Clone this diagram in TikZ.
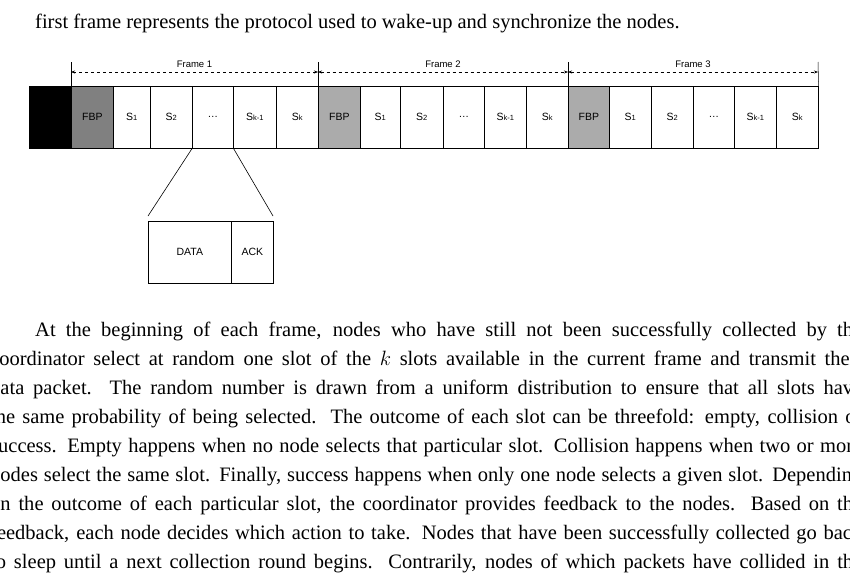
\documentclass[tikz,border=0pt]{standalone}
\usepackage{fontspec}
\setmainfont{Liberation Serif}
\newfontfamily\lab{Liberation Sans}
\usetikzlibrary{arrows.meta}
\begin{document}
\begin{tikzpicture}[x=1pt,y=-1pt,
  cell/.style={draw,line width=0.6pt,minimum height=62pt,inner sep=0pt,font=\lab\fontsize{10.5}{12}\selectfont},
  tick/.style={line width=0.5pt},
  dim/.style={dashed,line width=0.5pt,{Stealth[length=4pt]}-{Stealth[length=4pt]}},
  flabel/.style={font=\lab\fontsize{9.5}{11}\selectfont},
  body/.style={anchor=base west,inner sep=0pt,font=\fontsize{20.5}{24}\selectfont}]
\useasboundingbox (0,0) rectangle (850,576);
\clip (0,0) rectangle (850,576);
\newcommand{\sub}[2]{#1{\fontsize{7.5}{8}\selectfont #2}}
% cells
\node[cell,fill=black,minimum width=42pt,anchor=north west] (blk) at (29,86) {};
\foreach \n/\xa/\xb/\t/\f in {
 a0/71/113/FBP/black!50, a1/113/150/\sub{S}{1}/white, a2/150/192/\sub{S}{2}/white, a3/192/233/\dots/white, a4/233/276/\sub{S}{k-1}/white, a5/276/318/\sub{S}{k}/white,
 b0/318/360/FBP/black!33, b1/360/400/\sub{S}{1}/white, b2/400/443/\sub{S}{2}/white, b3/443/484/\dots/white, b4/484/526/\sub{S}{k-1}/white, b5/526/568/\sub{S}{k}/white,
 c0/568/609/FBP/black!33, c1/609/651/\sub{S}{1}/white, c2/651/693/\sub{S}{2}/white, c3/693/734/\dots/white, c4/734/776/\sub{S}{k-1}/white, c5/776/818/\sub{S}{k}/white}{
  \pgfmathsetmacro{\w}{\xb-\xa}
  \node[cell,fill=\f,minimum width=\w pt,anchor=north west] (\n) at (\xa,86) {\t};
}
% frame ticks
\coordinate (t1) at (71,62); \coordinate (t2) at (318,62);
\coordinate (t3) at (568,62); \coordinate (t4) at (818,62);
\draw[tick] (t1) -- (a0.north west);
\draw[tick] (t2) -- (b0.north west);
\draw[tick] (t3) -- (c0.north west);
\draw[tick] (t4) -- (c5.north east);
\draw[dim] (71,72) -- node[flabel,above=1pt] (f1) {Frame 1} (318,72);
\draw[dim] (318,72) -- node[flabel,above=1pt] (f2) {Frame 2} (568,72);
\draw[dim] (568,72) -- node[flabel,above=1pt] (f3) {Frame 3} (818,72);
% zoom
\node[cell,minimum width=83pt,anchor=north west] (data) at (148,221) {DATA};
\node[cell,minimum width=42pt,anchor=north west] (ack) at (231,221) {ACK};
\coordinate (z1) at (148,216); \coordinate (z2) at (273,216);
\draw[line width=0.6pt] (a3.south west) -- (z1);
\draw[line width=0.6pt] (a3.south east) -- (z2);
% text
\node[body] (cap) at (35,28) {first frame represents the protocol used to wake-up and synchronize the nodes.};
\node[body] (l1) at (35,336) {\makebox[827pt][s]{At the beginning of each frame, nodes who have still not been successfully collected by the}};
\node[body] (l2) at (-10,365) {\makebox[872pt][s]{coordinator select at random one slot of the $k$ slots available in the current frame and transmit their}};
\node[body] (l3) at (-10,394) {\makebox[872pt][s]{data packet.\ \ The random number is drawn from a uniform distribution to ensure that all slots have}};
\node[body] (l4) at (-10,423) {\makebox[872pt][s]{the same probability of being selected.\ \ The outcome of each slot can be threefold: empty, collision or}};
\node[body] (l5) at (-10,452) {\makebox[872pt][s]{success. Empty happens when no node selects that particular slot. Collision happens when two or more}};
\node[body] (l6) at (-10,481) {\makebox[872pt][s]{nodes select the same slot. Finally, success happens when only one node selects a given slot. Depending}};
\node[body] (l7) at (-10,510) {\makebox[872pt][s]{on the outcome of each particular slot, the coordinator provides feedback to the nodes.\ \ Based on the}};
\node[body] (l8) at (-10,539) {\makebox[872pt][s]{feedback, each node decides which action to take. Nodes that have been successfully collected go back}};
\node[body] (l9) at (-10,568) {\makebox[872pt][s]{to sleep until a next collection round begins.\ \ Contrarily, nodes of which packets have collided in the}};
\end{tikzpicture}
\end{document}
